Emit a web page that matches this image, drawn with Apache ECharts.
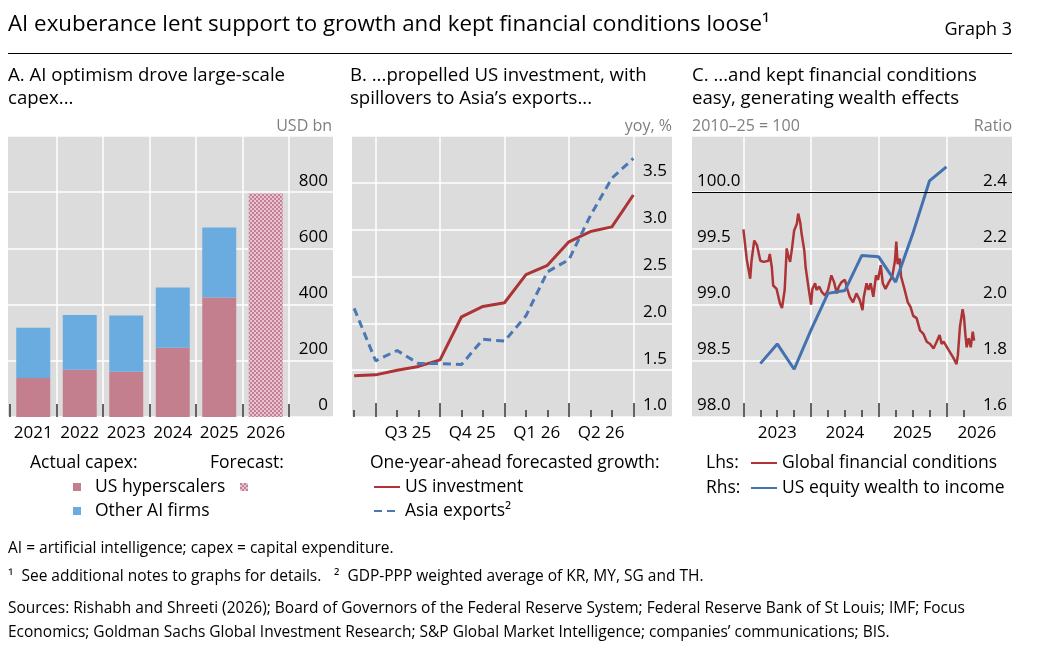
<!DOCTYPE html>
<html>
<head>
<meta charset="utf-8">
<title>Graph 3</title>
<script src="https://cdn.jsdelivr.net/npm/echarts@6/dist/echarts.min.js"></script>
<style>
  html, body { margin: 0; padding: 0; background: #fff; }
  #chart { width: 1045px; height: 651px; }
</style>
</head>
<body>
<div id="chart"></div>
<script>
// A. AI capex, USD bn
var capexYears = ['2021', '2022', '2023', '2024', '2025', '2026'];
var usHyperscalers = [139, 168, 161, 246, 425, null];
var otherAiFirms = [179, 195, 200, 215, 249, null];
var capexForecast = [null, null, null, null, null, 795];

// B. one-year-ahead forecasted growth, yoy %, monthly
var months = ['Jun 25', 'Jul 25', 'Aug 25', 'Sep 25', 'Oct 25', 'Nov 25', 'Dec 25',
              'Jan 26', 'Feb 26', 'Mar 26', 'Apr 26', 'May 26', 'Jun 26', 'Jul 26'];
var usInvestment = [1.44, 1.45, 1.50, 1.54, 1.61, 2.07, 2.18, 2.22, 2.52, 2.62, 2.87, 2.98, 3.03, 3.37];
var asiaExports = [2.16, 1.60, 1.71, 1.57, 1.57, 1.56, 1.83, 1.81, 2.08, 2.55, 2.68, 3.15, 3.55, 3.76];
var quarterStarts = [1, 4, 7, 10, 13];          // Jul 25, Oct 25, Jan 26, Apr 26, Jul 26
var quarterLabels = ['Q3 25', 'Q4 25', 'Q1 26', 'Q2 26'];

// C. global financial conditions (lhs, 2010-25 = 100)
var gfcDates = [2023.00, 2023.05, 2023.10, 2023.12, 2023.16, 2023.20, 2023.25, 2023.30, 2023.37, 2023.39,
  2023.42, 2023.44, 2023.49, 2023.54, 2023.57, 2023.61, 2023.64, 2023.66, 2023.69, 2023.72,
  2023.75, 2023.79, 2023.81, 2023.84, 2023.86, 2023.90, 2023.92, 2023.96, 2024.00, 2024.02,
  2024.06, 2024.08, 2024.12, 2024.16, 2024.21, 2024.25, 2024.30, 2024.34, 2024.38, 2024.41,
  2024.45, 2024.50, 2024.54, 2024.57, 2024.62, 2024.67, 2024.72, 2024.76, 2024.78, 2024.82,
  2024.85, 2024.88, 2024.92, 2024.96, 2024.99, 2025.03, 2025.06, 2025.10, 2025.15, 2025.20,
  2025.24, 2025.26, 2025.28, 2025.31, 2025.33, 2025.38, 2025.43, 2025.47, 2025.51, 2025.56,
  2025.61, 2025.66, 2025.71, 2025.76, 2025.81, 2025.85, 2025.90, 2025.93, 2025.96, 2026.01,
  2026.05, 2026.10, 2026.15, 2026.17, 2026.20, 2026.24, 2026.26, 2026.28, 2026.30, 2026.33,
  2026.36, 2026.39, 2026.41];
var gfcValues = [99.67, 99.40, 99.23, 99.39, 99.57, 99.53, 99.39, 99.38, 99.39, 99.45,
  99.33, 99.17, 99.14, 99.01, 98.97, 99.13, 99.50, 99.44, 99.38, 99.51,
  99.66, 99.72, 99.81, 99.73, 99.63, 99.48, 99.33, 99.16, 99.00, 99.14,
  99.19, 99.13, 99.16, 99.11, 99.08, 99.13, 99.26, 99.20, 99.10, 99.16,
  99.20, 99.22, 99.13, 99.07, 99.02, 99.10, 99.04, 98.95, 99.07, 99.19,
  99.13, 99.19, 99.07, 99.26, 99.22, 99.35, 99.19, 99.14, 99.20, 99.25,
  99.39, 99.56, 99.36, 99.41, 99.25, 99.14, 99.02, 98.98, 98.90, 98.88,
  98.77, 98.74, 98.67, 98.65, 98.61, 98.66, 98.73, 98.65, 98.67, 98.62,
  98.58, 98.53, 98.47, 98.55, 98.80, 98.96, 98.89, 98.74, 98.62, 98.70,
  98.62, 98.76, 98.68];
// C. US equity wealth to income (rhs, ratio), quarterly
var wealthDates = [2023.25, 2023.50, 2023.75, 2024.00, 2024.25, 2024.50, 2024.75, 2025.00, 2025.25, 2025.50, 2025.75, 2026.00];
var wealthValues = [1.79, 1.86, 1.77, 1.91, 2.04, 2.05, 2.175, 2.17, 2.08, 2.25, 2.44, 2.49];
var yearTicks = [2023, 2024, 2025, 2026];
var yearLabels = ['2023', '2024', '2025', '2026'];

var FONT = 'Open Sans';
var BG = '#dcdcdc';
var PINK = '#c47f8e';
var LIGHTBLUE = '#6aabe0';
var RED = '#ad3436';
var BLUE = '#4472b0';

var myChart = echarts.init(document.getElementById('chart'));

// cross-hatch fill for the forecast bar
function hatchPattern() {
  var c = document.createElement('canvas');
  c.width = 4;
  c.height = 4;
  var ctx = c.getContext('2d');
  ctx.fillStyle = '#e9c4d0';
  ctx.fillRect(0, 0, 4, 4);
  ctx.fillStyle = '#c27f95';
  ctx.fillRect(0, 0, 2, 2);
  ctx.fillRect(2, 2, 2, 2);
  return c;
}
var forecastFill = { image: hatchPattern(), repeat: 'repeat' };

var tickStyle = { color: '#333', width: 1.5 };
var whiteLine = { show: true, lineStyle: { color: '#fff', width: 1.5 } };
var labelFont = { fontFamily: FONT, fontSize: 17, color: '#000' };

function yLabels(maxV, digits) {
  return Object.assign({
    inside: true, margin: 5, verticalAlign: 'bottom', padding: [0, 0, 3, 0],
    formatter: function (v) {
      if (Math.abs(v - maxV) < 1e-6) return '';
      return digits ? v.toFixed(digits) : String(v);
    }
  }, labelFont);
}

// panel B ticks from month indices
var monthIdx = months.map(function (m, i) { return i; });
var minorB = monthIdx.filter(function (i) { return quarterStarts.indexOf(i) < 0; });
var quarterMid = quarterLabels.map(function (q, i) { return quarterStarts[i] + 1.5; });

// panel C quarterly ticks
var minorC = [];
yearTicks.forEach(function (y) {
  [0.25, 0.5, 0.75].forEach(function (q) { if (y + q <= 2026.3) minorC.push(y + q); });
});
var yearMid = yearTicks.map(function (y) { return y + 0.5; });
yearMid[yearMid.length - 1] = 2026.45;

function pairs(xs, ys) {
  return xs.map(function (x, i) { return [x, ys[i]]; });
}

function txt(x, y, s, o) {
  o = o || {};
  return {
    type: 'text', x: x, y: y, silent: true,
    style: {
      text: s,
      fontFamily: FONT,
      fontSize: o.size || 17,
      fill: o.color || '#000',
      align: o.align || 'left', textAlign: o.align || 'left',
      verticalAlign: 'middle', textVerticalAlign: 'middle'
    }
  };
}

var legendText = { fontFamily: FONT, fontSize: 17.5, color: '#000', lineHeight: 20 };
function legendAt(name, left, top, extra) {
  return Object.assign({
    orient: 'vertical', padding: 0, itemGap: 0, selectedMode: false,
    textStyle: legendText, data: [name], left: left, top: top
  }, extra || {});
}
var squareLegend = { itemWidth: 8, itemHeight: 8, icon: 'rect',
  textStyle: Object.assign({}, legendText, { padding: [0, 0, 0, 9] }) };
var lineLegend = { itemWidth: 26, itemHeight: 12, itemStyle: { opacity: 0 } };

var option = {
  animation: false,
  backgroundColor: '#fff',
  textStyle: { fontFamily: FONT },
  grid: [
    { left: 8, top: 136, width: 325, height: 281, show: true, backgroundColor: BG, borderWidth: 0 },
    { left: 10, top: 136, width: 279, height: 281 },
    { left: 352, top: 136, width: 320, height: 281, show: true, backgroundColor: BG, borderWidth: 0 },
    { left: 692, top: 136, width: 320, height: 281, show: true, backgroundColor: BG, borderWidth: 0 }
  ],
  xAxis: [
    { gridIndex: 0, type: 'value', show: false, min: 0, max: 1 },
    {
      gridIndex: 1, type: 'category', position: 'bottom', data: capexYears,
      axisLine: { show: false },
      axisTick: { show: true, inside: true, length: 13, lineStyle: tickStyle },
      axisLabel: Object.assign({ margin: 8, interval: 0 }, labelFont),
      splitLine: { show: true, showMinLine: false, lineStyle: { color: '#fff', width: 1.5 } }
    },
    {
      gridIndex: 2, type: 'value', position: 'bottom', min: -0.1, max: 14.8,
      axisLine: { show: false },
      axisTick: { show: true, inside: true, length: 7, lineStyle: tickStyle, customValues: minorB },
      axisLabel: { show: false },
      splitLine: { show: false }
    },
    {
      gridIndex: 2, type: 'value', position: 'bottom', offset: 0, min: -0.1, max: 14.8,
      axisLine: { show: false },
      axisTick: { show: true, inside: true, length: 14, lineStyle: tickStyle, customValues: quarterStarts },
      axisLabel: Object.assign({
        margin: 8, customValues: quarterMid,
        formatter: function (v) {
          var i = quarterMid.indexOf(v);
          return i < 0 ? '' : quarterLabels[i];
        }
      }, labelFont),
      splitLine: whiteLine
    },
    {
      gridIndex: 3, type: 'value', position: 'bottom', min: 2022.24, max: 2026.97,
      axisLine: { show: false },
      axisTick: { show: true, inside: true, length: 7, lineStyle: tickStyle, customValues: minorC },
      axisLabel: { show: false },
      splitLine: { show: false }
    },
    {
      gridIndex: 3, type: 'value', position: 'bottom', offset: 0, min: 2022.24, max: 2026.97,
      axisLine: { show: false },
      axisTick: { show: true, inside: true, length: 14, lineStyle: tickStyle, customValues: yearTicks },
      axisLabel: Object.assign({
        margin: 8, customValues: yearMid,
        formatter: function (v) {
          var i = yearMid.indexOf(v);
          return i < 0 ? '' : yearLabels[i];
        }
      }, labelFont),
      splitLine: whiteLine
    }
  ],
  yAxis: [
    {
      gridIndex: 0, type: 'value', position: 'right', min: 0, max: 1000, interval: 200,
      axisLine: { show: false }, axisTick: { show: false },
      axisLabel: yLabels(1000, 0), splitLine: whiteLine
    },
    { gridIndex: 1, type: 'value', min: 0, max: 1000, show: false },
    {
      gridIndex: 2, type: 'value', position: 'right', min: 1, max: 4, interval: 0.5,
      axisLine: { show: false }, axisTick: { show: false },
      axisLabel: yLabels(4, 1), splitLine: whiteLine
    },
    {
      gridIndex: 3, type: 'value', position: 'left', min: 98, max: 100.5, interval: 0.5,
      axisLine: { show: false }, axisTick: { show: false },
      axisLabel: yLabels(100.5, 1), splitLine: whiteLine
    },
    {
      gridIndex: 3, type: 'value', position: 'right', min: 1.6, max: 2.6, interval: 0.2,
      axisLine: { show: false }, axisTick: { show: false },
      axisLabel: yLabels(2.6, 1), splitLine: { show: false }
    }
  ],
  legend: [
    legendAt('US hyperscalers', 73, 477, squareLegend),
    legendAt('Other AI firms', 73, 501, squareLegend),
    legendAt('Forecast', 240, 483, { itemWidth: 8, itemHeight: 8, icon: 'rect',
      formatter: function () { return ''; } }),
    legendAt('US investment', 373, 477, lineLegend),
    legendAt('Asia exports', 373, 501, Object.assign({
      formatter: function (n) { return n + '²'; } }, lineLegend)),
    legendAt('Global financial conditions', 750, 453, lineLegend),
    legendAt('US equity wealth to income', 750, 478, lineLegend)
  ],
  graphic: [
    txt(8, 25, 'AI exuberance lent support to growth and kept financial conditions loose¹', { size: 22.3 }),
    txt(1012, 30, 'Graph 3', { align: 'right', size: 18 }),
    { type: 'line', silent: true, shape: { x1: 8, y1: 53.5, x2: 1012, y2: 53.5 }, style: { stroke: '#000', lineWidth: 1 } },

    txt(8, 76, 'A. AI optimism drove large-scale', { size: 18.6 }),
    txt(8, 99, 'capex...', { size: 18.6 }),
    txt(350, 76, 'B. ...propelled US investment, with', { size: 18.6 }),
    txt(350, 99, 'spillovers to Asia\u2019s exports...', { size: 18.6 }),
    txt(692, 76, 'C. ...and kept financial conditions', { size: 18.6 }),
    txt(692, 99, 'easy, generating wealth effects', { size: 18.6 }),

    txt(332, 126, 'USD bn', { size: 16, color: '#7f7f7f', align: 'right' }),
    txt(672, 126, 'yoy, %', { size: 16, color: '#7f7f7f', align: 'right' }),
    txt(692, 126, '2010\u201325 = 100', { size: 16, color: '#7f7f7f' }),
    txt(1012, 126, 'Ratio', { size: 16, color: '#7f7f7f', align: 'right' }),

    txt(30, 463, 'Actual capex:', { size: 17.5 }),
    txt(210, 463, 'Forecast:', { size: 17.5 }),
    txt(370, 463, 'One-year-ahead forecasted growth:', { size: 17.5 }),
    txt(706, 463, 'Lhs:', { size: 17.5 }),
    txt(706, 488, 'Rhs:', { size: 17.5 }),

    txt(8, 549, 'AI = artificial intelligence; capex = capital expenditure.', { size: 15.5 }),
    txt(8, 577, '¹  See additional notes to graphs for details.', { size: 15.5 }),
    txt(334, 577, '²  GDP-PPP weighted average of KR, MY, SG and TH.', { size: 15.5 }),
    txt(8, 609, 'Sources: Rishabh and Shreeti (2026); Board of Governors of the Federal Reserve System; Federal Reserve Bank of St Louis; IMF; Focus', { size: 15.5 }),
    txt(8, 633, 'Economics; Goldman Sachs Global Investment Research; S&P Global Market Intelligence; companies\u2019 communications; BIS.', { size: 15.5 })
  ],
  series: [
    {
      name: 'US hyperscalers', type: 'bar', xAxisIndex: 1, yAxisIndex: 1, stack: 'capex',
      barWidth: 34, data: usHyperscalers, itemStyle: { color: PINK }
    },
    {
      name: 'Other AI firms', type: 'bar', xAxisIndex: 1, yAxisIndex: 1, stack: 'capex',
      barWidth: 34, data: otherAiFirms, itemStyle: { color: LIGHTBLUE }
    },
    {
      name: 'Forecast', type: 'bar', xAxisIndex: 1, yAxisIndex: 1, stack: 'capex',
      barWidth: 34, data: capexForecast, itemStyle: { color: forecastFill }
    },
    {
      name: 'US investment', type: 'line', xAxisIndex: 3, yAxisIndex: 2,
      data: pairs(monthIdx, usInvestment), symbol: 'none',
      lineStyle: { color: RED, width: 3 }, itemStyle: { color: RED }
    },
    {
      name: 'Asia exports', type: 'line', xAxisIndex: 3, yAxisIndex: 2,
      data: pairs(monthIdx, asiaExports), symbol: 'none',
      lineStyle: { color: '#4b78b4', width: 3, type: [8, 5] }, itemStyle: { color: '#4b78b4' }
    },
    {
      name: 'Global financial conditions', type: 'line', xAxisIndex: 5, yAxisIndex: 3,
      data: pairs(gfcDates, gfcValues), symbol: 'none',
      lineStyle: { color: RED, width: 2.5 }, itemStyle: { color: RED },
      markLine: {
        silent: true, symbol: ['none', 'none'], label: { show: false },
        lineStyle: { color: '#000', width: 1, type: 'solid' },
        data: [{ yAxis: 100 }]
      }
    },
    {
      name: 'US equity wealth to income', type: 'line', xAxisIndex: 5, yAxisIndex: 4,
      data: pairs(wealthDates, wealthValues), symbol: 'none',
      lineStyle: { color: BLUE, width: 3 }, itemStyle: { color: BLUE }
    }
  ]
};

myChart.setOption(option);
</script>
</body>
</html>
